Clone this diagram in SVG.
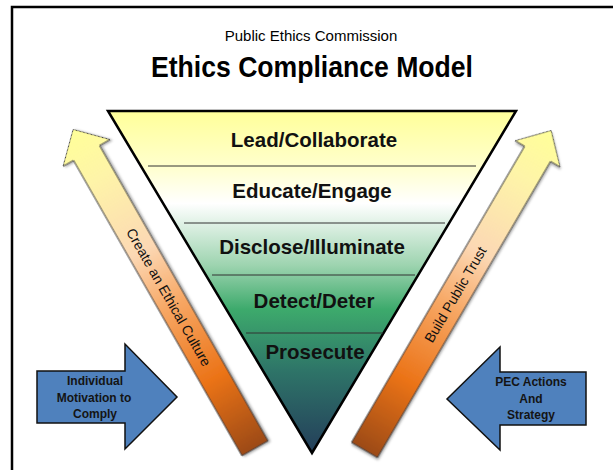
<svg xmlns="http://www.w3.org/2000/svg" width="613" height="470" viewBox="0 0 613 470">
  <defs>
    <linearGradient id="triGrad" gradientUnits="userSpaceOnUse" x1="0" y1="111" x2="0" y2="453">
      <stop offset="0" stop-color="#FFFF99"/>
      <stop offset="0.16" stop-color="#FFFFCC"/>
      <stop offset="0.27" stop-color="#FFFFFF"/>
      <stop offset="0.45" stop-color="#9ED4B0"/>
      <stop offset="0.58" stop-color="#3DAA6C"/>
      <stop offset="0.76" stop-color="#2E7468"/>
      <stop offset="1" stop-color="#243E5A"/>
    </linearGradient>
    <linearGradient id="arrowGrad" x1="0" y1="1" x2="0" y2="0">
      <stop offset="0" stop-color="#9C4A12"/>
      <stop offset="0.22" stop-color="#EB7317"/>
      <stop offset="0.45" stop-color="#F7A764"/>
      <stop offset="0.62" stop-color="#FCD8B4"/>
      <stop offset="0.85" stop-color="#FEF4A8"/>
      <stop offset="1" stop-color="#FFFF99"/>
    </linearGradient>
    <filter id="shadow" x="-20%" y="-20%" width="140%" height="140%">
      <feDropShadow dx="1.5" dy="1.5" stdDeviation="1.2" flood-color="#000" flood-opacity="0.35"/>
    </filter>
  </defs>
  <style>
    .title { font-family: "Liberation Sans", Arial, sans-serif; fill: #000; text-anchor: middle; }
    .layer { font-family: "Liberation Sans", Arial, sans-serif; font-weight: bold; font-size: 20.5px; fill: #111; text-anchor: middle; }
    .sep { stroke: #333; stroke-width: 1; }
    .orange { fill: url(#arrowGrad); stroke: #404040; stroke-width: 1; filter: url(#shadow); }
    .orangeText { font-family: "Liberation Sans", Arial, sans-serif; font-size: 14px; fill: #111; text-anchor: middle; }
    .blue { fill: #4F81BD; stroke: #111; stroke-width: 1.5; }
    .blueText { font-family: "Liberation Sans", Arial, sans-serif; font-weight: bold; font-size: 12px; fill: #141414; text-anchor: middle; }
  </style>

  <rect x="0" y="0" width="613" height="470" fill="#FFFFFF"/>
  <path d="M12,471 V7 H614" fill="none" stroke="#000" stroke-width="2.5"/>

  <g id="title">
    <text class="title" x="311" y="41" font-size="15">Public Ethics Commission</text>
    <text class="title" x="312" y="77" font-size="29" font-weight="bold" textLength="322" lengthAdjust="spacingAndGlyphs">Ethics Compliance Model</text>
  </g>

  <g id="triangle">
    <polygon points="108,111 516,111 312,453" fill="url(#triGrad)" stroke="#000" stroke-width="2.5" stroke-linejoin="miter"/>
    <line class="sep" x1="148" y1="166" x2="476" y2="166"/>
    <line class="sep" x1="184" y1="223" x2="445" y2="223"/>
    <line class="sep" x1="212" y1="275" x2="415" y2="275"/>
    <line class="sep" x1="246" y1="333" x2="383" y2="333"/>
    <text class="layer" x="314" y="147">Lead/Collaborate</text>
    <text class="layer" x="312" y="198">Educate/Engage</text>
    <text class="layer" x="312" y="254">Disclose/Illuminate</text>
    <text class="layer" x="314" y="308">Detect/Deter</text>
    <text class="layer" x="315" y="359">Prosecute</text>
  </g>

  <g id="culture-arrow" transform="translate(255,448.3) rotate(-29.7)">
    <polygon class="orange" points="-15,0 -15,-340 -27,-340 0,-367 27,-340 15,-340 15,0"/>
    <text class="orangeText" transform="translate(0,-174) rotate(90)" x="0" y="5">Create an Ethical Culture</text>
  </g>

  <g id="trust-arrow" transform="translate(364.5,450) rotate(30.3)">
    <polygon class="orange" points="-15,0 -15,-343 -26,-343 0,-370 26,-343 15,-343 15,0"/>
    <text class="orangeText" transform="translate(0,-180) rotate(-90)" x="0" y="5">Build Public Trust</text>
  </g>

  <g id="individual-arrow">
    <polygon class="blue" points="37,371 125,371 125,344 177,397 125,449 125,423 37,423"/>
    <text class="blueText" x="95" y="385">Individual</text>
    <text class="blueText" x="94" y="402">Motivation to</text>
    <text class="blueText" x="95" y="418">Comply</text>
  </g>

  <g id="pec-arrow">
    <polygon class="blue" points="586,372 500,372 500,347 447,399 500,450 500,425 586,425"/>
    <text class="blueText" x="531" y="386" font-size="11.5">PEC Actions</text>
    <text class="blueText" x="531" y="403">And</text>
    <text class="blueText" x="531" y="419">Strategy</text>
  </g>
</svg>
